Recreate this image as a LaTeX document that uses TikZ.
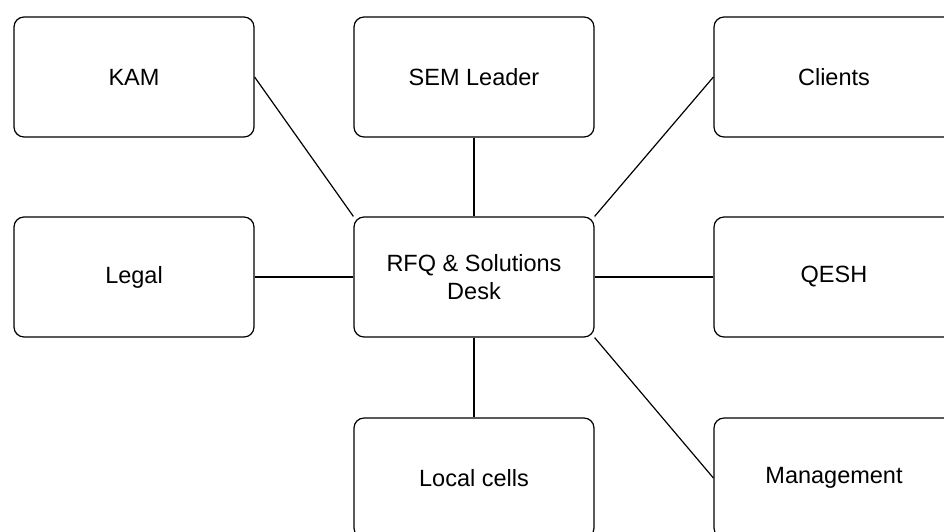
\documentclass[tikz,border=0pt]{standalone}
\usepackage{fontspec}
\setmainfont{Liberation Sans}
\tikzset{every picture/.append style={x=1pt, y=-1pt}}
\tikzset{
    every node/.style={rectangle, draw, rounded corners=10pt, line width=1.2pt,
    	minimum width=240pt, minimum height=120pt, align=center,
    	font=\fontsize{23.5}{28.5}\selectfont}
}

\begin{document}
\begin{tikzpicture}[line width=1.2pt]
  \useasboundingbox (0,0) rectangle (944,531);
  \clip (0,0) rectangle (944,531);

  \node (kam) at (134,77) {KAM};
  \node (sem) at (474,77) {SEM Leader};
  \node (clients) at (834,77) {Clients};
  \node (legal) at (134,277) {Legal};
  \node (desk) at (474,277) {RFQ \& Solutions\\Desk};
  \node (qesh) at (834,277) {QESH};
  \node (cells) at (474,478) {Local cells};
  \node (mgmt) at (834,478) {Management};

  \draw (kam.east) edge (desk.north west);
  \draw (sem) edge (desk);
  \draw (desk.north east) edge (clients.west);
  \draw (legal) edge (desk);
  \draw (desk) edge (qesh);
  \draw (desk) edge (cells);
  \draw (desk.south east) edge (mgmt.west);
\end{tikzpicture}
\end{document}
